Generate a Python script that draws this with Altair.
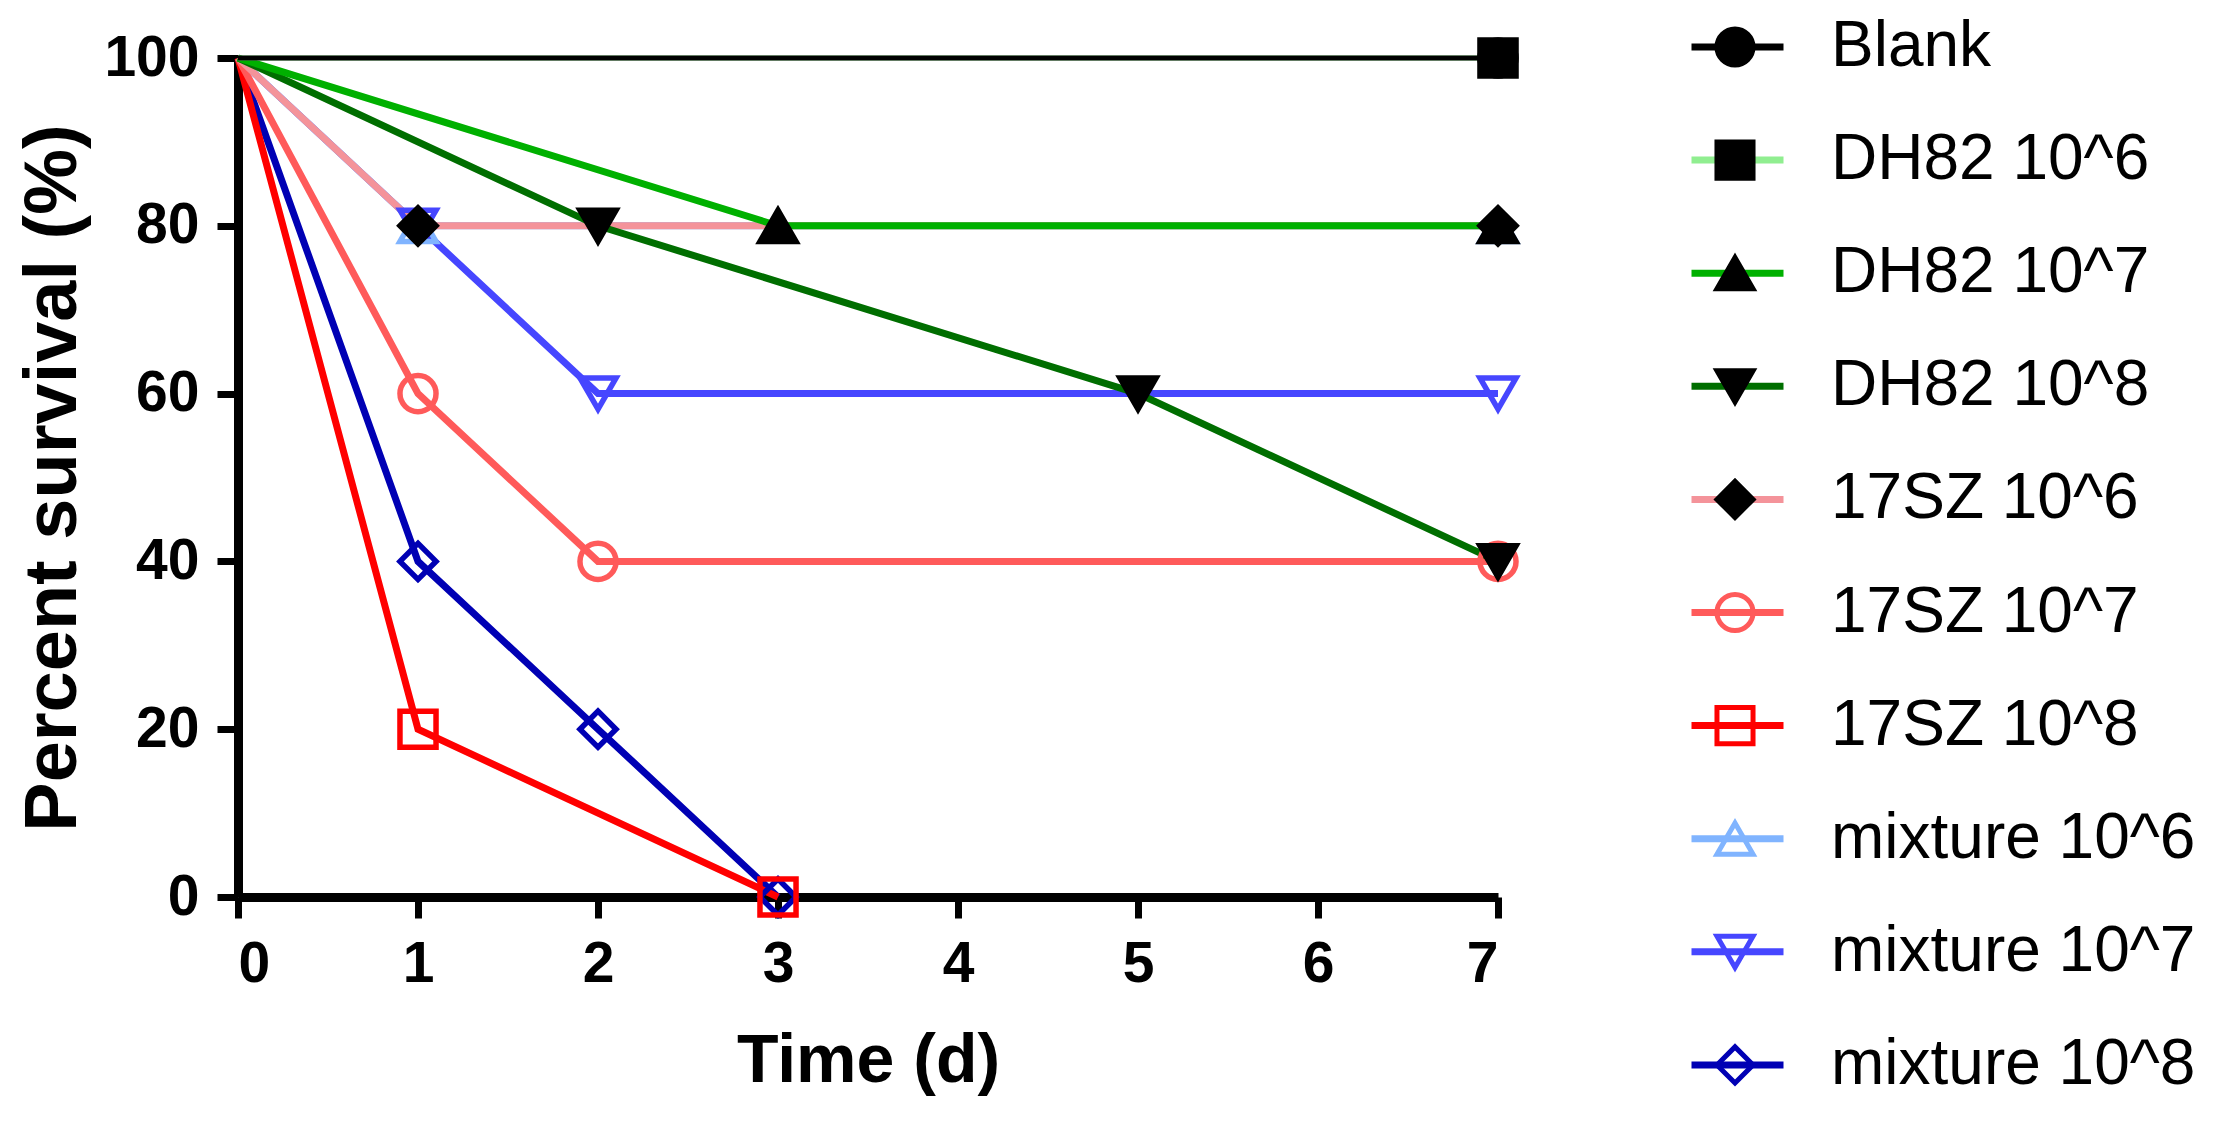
import altair as alt
import pandas as pd

series = ["Blank", "DH82 10^6", "DH82 10^7", "DH82 10^8", "17SZ 10^6",
          "17SZ 10^7", "17SZ 10^8", "mixture 10^6", "mixture 10^7", "mixture 10^8"]
times = [[0, 7], [0, 7], [0, 3, 7], [0, 2, 5, 7], [0, 1, 7],
         [0, 1, 2, 7], [0, 1, 3], [0, 1, 7], [0, 1, 2, 7], [0, 1, 2, 3]]
survival = [[100, 100], [100, 100], [100, 80, 80], [100, 80, 60, 40], [100, 80, 80],
            [100, 60, 40, 40], [100, 20, 0], [100, 80, 80], [100, 80, 60, 60], [100, 40, 20, 0]]
line_colors = ["#000000", "#90EE90", "#00B000", "#006E00", "#F4939A",
               "#FF5A5A", "#FF0000", "#80B4FF", "#4646FF", "#0000B4"]
marker_shapes = ["circle", "square", "triangle-up", "triangle-down", "diamond",
                 "circle", "square", "triangle-up", "triangle-down", "diamond"]
marker_fills = ["#000000"] * 5 + ["transparent"] * 5
marker_strokes = ["#000000"] * 5 + line_colors[5:]
x_ticks = [0, 1, 2, 3, 4, 5, 6, 7]
y_ticks = [0, 20, 40, 60, 80, 100]

rows = []
for i in reversed(range(len(series))):
    z = len(series) - 1 - i
    for t, s in zip(times[i], survival[i]):
        rows.append({"series": series[i], "time": t, "survival": s, "z": z})
df = pd.DataFrame(rows)
pts = df[df["time"] > 0]

FONT = "Liberation Sans"
LFS = 64            # legend label size
ROW = 113.1         # legend row pitch
LY = -43
LINE_LX = 1450
PT_LX = 1465

x_enc = alt.X("time:Q", scale=alt.Scale(domain=[0, 7], nice=False),
              axis=alt.Axis(values=x_ticks, title="Time (d)", format="d",
                            titlePadding=35, titleFontSize=68))
y_enc = alt.Y("survival:Q", scale=alt.Scale(domain=[0, 100], nice=False),
              axis=alt.Axis(values=y_ticks, title="Percent survival (%)",
                            titlePadding=12, titleFontSize=74))

thin = alt.FieldOneOfPredicate(field="series", oneOf=["Blank", "DH82 10^6"])

lines = alt.Chart(df).mark_line().encode(
    x=x_enc,
    y=y_enc,
    color=alt.Color("series:N", sort=series,
                    scale=alt.Scale(range=line_colors),
                    legend=alt.Legend(orient="none", legendX=LINE_LX, legendY=LY,
                                      direction="vertical", title=None,
                                      symbolType="stroke", symbolSize=8464,
                                      symbolStrokeWidth=7, labelExpr="''",
                                      labelFont=FONT, labelFontSize=LFS,
                                      rowPadding=ROW - LFS, clipHeight=LFS, padding=0)),
    strokeWidth=alt.condition(thin, alt.value(5), alt.value(7)),
    order=alt.Order("time:Q"),
)

pleg = alt.Legend(orient="none", legendX=PT_LX, legendY=LY,
                  direction="vertical", title=None,
                  symbolSize=1300, symbolStrokeWidth=5, symbolOpacity=1,
                  labelFont=FONT, labelFontSize=LFS, labelColor="#000000",
                  labelLimit=0, labelOffset=64, rowPadding=ROW - LFS,
                  clipHeight=LFS, padding=0)

points = alt.Chart(pts).mark_point(size=1300, strokeWidth=5.5, opacity=1).encode(
    x="time:Q",
    y="survival:Q",
    shape=alt.Shape("series:N", scale=alt.Scale(domain=series, range=marker_shapes), legend=pleg),
    fill=alt.Fill("series:N", scale=alt.Scale(domain=series, range=marker_fills), legend=pleg),
    stroke=alt.Stroke("series:N", scale=alt.Scale(domain=series, range=marker_strokes), legend=pleg),
    order=alt.Order("z:Q"),
)

chart = alt.layer(lines, points).properties(
    width=1260, height=839,
    autosize=alt.AutoSizeParams(type="none"),
    padding={"left": 230, "top": 50, "right": 722, "bottom": 217},
).configure_view(stroke=None).configure_axis(
    grid=False,
    domainColor="#000000", domainWidth=9,
    tickColor="#000000", tickWidth=7, tickSize=21,
    labelFont=FONT, labelFontSize=57, labelFontWeight="bold", labelColor="#000000",
    labelPadding=18,
    titleFont=FONT, titleFontWeight="bold", titleColor="#000000",
)

chart.save("out.html", embed_options={"renderer": "svg", "actions": False})
